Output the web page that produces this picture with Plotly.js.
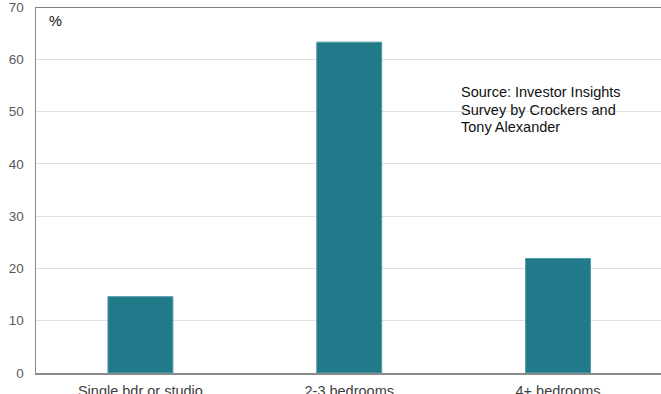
<!DOCTYPE html>
<html>
<head>
<meta charset="utf-8">
<script src="https://cdn.plot.ly/plotly-3.0.1.min.js"></script>
<style>
  html, body { margin: 0; padding: 0; background: #fff; }
  #chart { width: 661px; height: 394px; }
</style>
</head>
<body>
<div id="chart"></div>
<script>
// Preferred dwelling size among investors (% of respondents)
const categories = ['Single bdr or studio', '2-3 bedrooms', '4+ bedrooms'];
const shares = [14.6, 63.3, 21.9];
const yTicks = [0, 10, 20, 30, 40, 50, 60, 70];
const sourceLines = ['Source: Investor Insights', 'Survey by Crockers and', 'Tony Alexander'];

const font = 'Arial, "Liberation Sans", sans-serif';

const trace = {
  type: 'bar',
  x: categories,
  y: shares,
  width: 0.311,
  marker: {
    color: '#217a8a',
    line: { color: '#4f9aa6', width: 1 }
  },
  hoverinfo: 'x+y'
};

const annotations = sourceLines.map((line, i) => ({
  text: line,
  xref: 'paper', yref: 'paper',
  x: 0.676, y: 0.767 - i * 0.0472,
  xanchor: 'left', yanchor: 'middle',
  showarrow: false,
  font: { family: font, size: 14.5, color: '#111' }
}));

annotations.push({
  text: '%',
  xref: 'paper', yref: 'paper',
  x: 0.017, y: 0.962,
  xanchor: 'left', yanchor: 'middle',
  showarrow: false,
  font: { family: font, size: 14.5, color: '#111' }
});

const layout = {
  width: 661,
  height: 394,
  margin: { l: 35.5, r: 0, t: 7, b: 20.5 },
  paper_bgcolor: '#fff',
  plot_bgcolor: '#fff',
  showlegend: false,
  bargap: 0,
  xaxis: {
    type: 'category',
    range: [-0.5, 2.493],
    showgrid: false,
    showline: true,
    linecolor: '#8a8a8a',
    linewidth: 1.5,
    ticks: '',
    tickfont: { family: font, size: 14.5, color: '#404040' },
    ticklabelstandoff: 4,
    automargin: false,
    fixedrange: true
  },
  yaxis: {
    range: [0, 70.02],
    tickvals: yTicks,
    ticktext: yTicks.map(String),
    showgrid: true,
    gridcolor: '#e0e0e0',
    gridwidth: 1,
    zeroline: false,
    showline: true,
    linecolor: '#8a8a8a',
    linewidth: 1.5,
    ticks: '',
    tickfont: { family: font, size: 13.5, color: '#595959' },
    ticklabelstandoff: 8,
    ticklabeloverflow: 'allow',
    automargin: false,
    fixedrange: true
  },
  shapes: [{
    type: 'line',
    xref: 'paper', yref: 'y',
    x0: 0, x1: 1, y0: 70, y1: 70,
    line: { color: '#555', width: 1.5 }
  }],
  annotations: annotations
};

Plotly.newPlot('chart', [trace], layout, { displayModeBar: false, staticPlot: true });
</script>
</body>
</html>
